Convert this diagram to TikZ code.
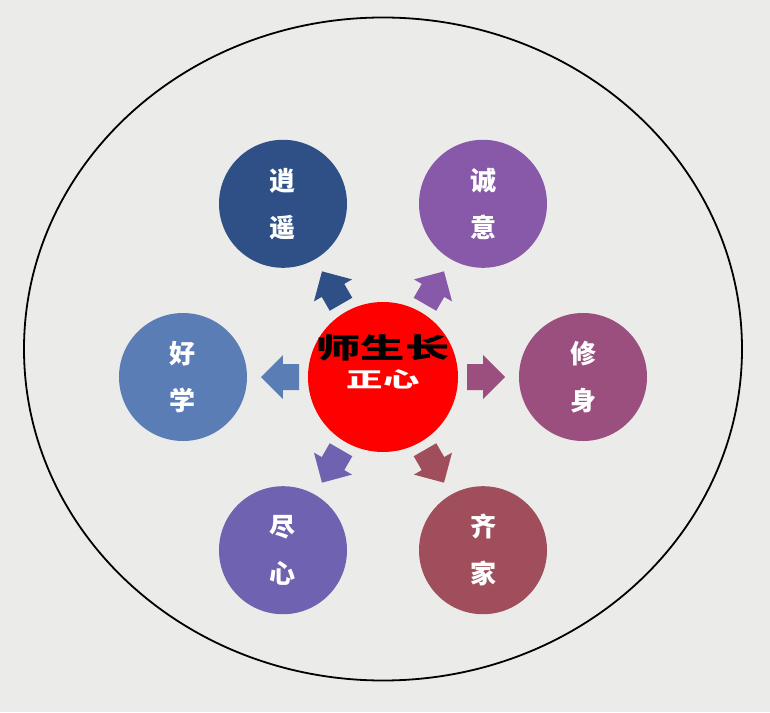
\documentclass[tikz,border=0pt]{standalone}
\usepackage{fontspec}
\usepackage{graphicx}
\usepackage{tikz}
\usepackage{xcolor}
\newfontfamily\cjk{Noto Sans CJK SC}

\definecolor{bgGray}{HTML}{EBEBE9}
\definecolor{cXiaoyao}{HTML}{2E5086}
\definecolor{cChengyi}{HTML}{8759A8}
\definecolor{cHaoxue}{HTML}{5B7DB6}
\definecolor{cXiushen}{HTML}{9B4F7F}
\definecolor{cJinxin}{HTML}{6F62B0}
\definecolor{cQijia}{HTML}{A04E5C}

\begin{document}
\begin{tikzpicture}[x=1pt,y=1pt]
    \tikzstyle{O}=[circle,minimum size=128pt,inner sep=0pt,text=white,align=center,
        font=\cjk\bfseries\fontsize{26}{47}\selectfont]
    \tikzstyle{M}=[circle,fill=red,minimum size=150pt,inner sep=0pt]

    % Background and frame
    \fill [bgGray] (-383,-335) rectangle (387,377);
    \draw [line width=1.8pt] (0,28) ellipse [x radius=359, y radius=331.5];

    % Centre
    \node [M] (core) at (0,0) {};
    \node [inner sep=0pt,font=\cjk\bfseries\fontsize{34}{34}\selectfont] (title) at (0,29)
        {\scalebox{1.3}[0.82]{师生长}};
    \node [inner sep=0pt,text=white,font=\cjk\bfseries\fontsize{28}{28}\selectfont] (zhengxin) at (0,-2)
        {\scalebox{1.3}[0.75]{正心}};

    % Six virtues
    \node [O, fill=cXiaoyao] (xiaoyao) at (120:200) {逍\\遥};
    \node [O, fill=cChengyi] (chengyi) at (60:200) {诚\\意};
    \node [O, fill=cHaoxue]  (haoxue)  at (180:200) {好\\学};
    \node [O, fill=cXiushen] (xiushen) at (0:200) {修\\身};
    \node [O, fill=cJinxin]  (jinxin)  at (240:200) {尽\\心};
    \node [O, fill=cQijia]   (qijia)   at (300:200) {齐\\家};

    % Block arrows
    \fill [cXiaoyao, rotate=120] (84,-13) -- (100,-13) -- (100,-22) -- (122,0) -- (100,22) -- (100,13) -- (84,13) -- cycle;
    \fill [cChengyi, rotate=60]  (84,-13) -- (100,-13) -- (100,-22) -- (122,0) -- (100,22) -- (100,13) -- (84,13) -- cycle;
    \fill [cHaoxue, rotate=180]  (84,-13) -- (100,-13) -- (100,-22) -- (122,0) -- (100,22) -- (100,13) -- (84,13) -- cycle;
    \fill [cXiushen, rotate=0]   (84,-13) -- (100,-13) -- (100,-22) -- (122,0) -- (100,22) -- (100,13) -- (84,13) -- cycle;
    \fill [cJinxin, rotate=240]  (84,-13) -- (100,-13) -- (100,-22) -- (122,0) -- (100,22) -- (100,13) -- (84,13) -- cycle;
    \fill [cQijia, rotate=300]   (84,-13) -- (100,-13) -- (100,-22) -- (122,0) -- (100,22) -- (100,13) -- (84,13) -- cycle;

\end{tikzpicture}
\end{document}
